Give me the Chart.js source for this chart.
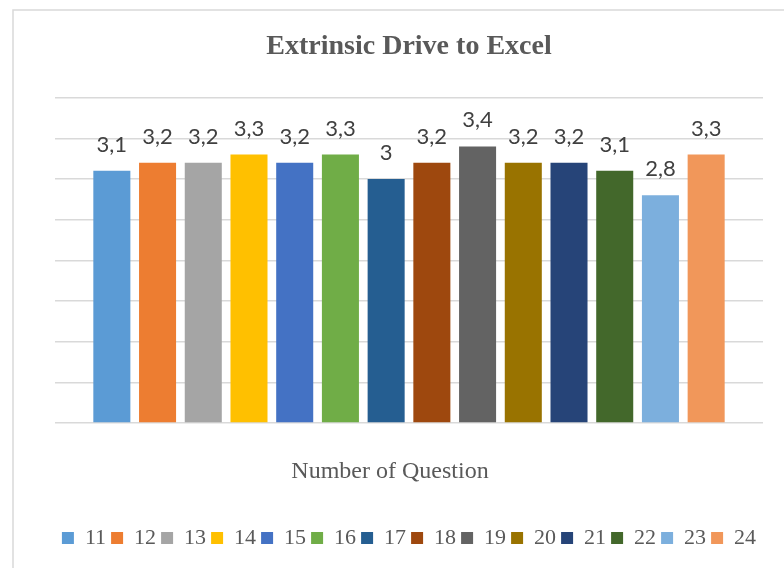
<!DOCTYPE html>
<html>
<head>
<meta charset="utf-8">
<script src="https://cdn.jsdelivr.net/npm/chart.js@4.4.0/dist/chart.umd.min.js"></script>
<style>
    body { margin: 0; background: #ffffff; }
    #contenedor { position: relative; width: 784px; height: 568px; }
</style>
</head>
<body>
<div id="contenedor">
    <canvas id="myChart" width="784" height="568"></canvas>
</div>
<script>
// datos de la grafica
var preguntas = ['11', '12', '13', '14', '15', '16', '17', '18', '19', '20', '21', '22', '23', '24'];
var promedios = [3.1, 3.2, 3.2, 3.3, 3.2, 3.3, 3.0, 3.2, 3.4, 3.2, 3.2, 3.1, 2.8, 3.3];
var colores = ['#5B9BD5', '#ED7D31', '#A5A5A5', '#FFC000', '#4472C4', '#70AD47', '#255E91',
               '#9E480E', '#636363', '#997300', '#264478', '#43682B', '#7CAFDD', '#F1975A'];
var titulo = 'Extrinsic Drive to Excel';
var tituloEje = 'Number of Question';

// un dataset por pregunta (asi sale la leyenda como en excel)
var datasets = [];
for (var i in preguntas) {
    datasets.push({
        label: preguntas[i],
        data: [promedios[i]],
        backgroundColor: colores[i],
        borderWidth: 0,
        categoryPercentage: 0.904,
        barPercentage: 0.81
    });
}

// marco gris alrededor de la grafica
var marco = {
    id: 'marco',
    beforeDraw: function (chart) {
        var ctx = chart.ctx;
        ctx.save();
        ctx.strokeStyle = '#d9d9d9';
        ctx.lineWidth = 1.5;
        ctx.strokeRect(13, 10, 800, 600);
        ctx.restore();
    }
};

// etiquetas de valor arriba de cada barra y titulo del eje
var etiquetas = {
    id: 'etiquetas',
    afterDatasetsDraw: function (chart) {
        var ctx = chart.ctx;
        ctx.save();
        ctx.font = '22px Lato';
        ctx.fillStyle = '#404040';
        ctx.textAlign = 'center';
        ctx.textBaseline = 'alphabetic';
        chart.data.datasets.forEach(function (ds, idx) {
            var bar = chart.getDatasetMeta(idx).data[0];
            var texto = String(ds.data[0]).replace('.', ',');
            ctx.fillText(texto, bar.x, bar.y - 19);
        });
        // titulo del eje x
        ctx.font = '24px "Liberation Serif"';
        ctx.fillStyle = '#595959';
        ctx.textBaseline = 'middle';
        ctx.fillText(tituloEje, 390, 472);
        ctx.restore();
    }
};

var graphTarget = document.getElementById('myChart');

var barGraph = new Chart(graphTarget, {
    type: 'bar',
    data: {
        labels: [''],
        datasets: datasets
    },
    plugins: [marco, etiquetas],
    options: {
        responsive: false,
        animation: false,
        layout: {
            padding: { left: 55, right: 21, top: 0, bottom: 9 }
        },
        plugins: {
            title: {
                display: true,
                text: titulo,
                color: '#595959',
                font: { family: '"Liberation Serif"', size: 28, weight: 'bold' },
                padding: { top: 30, bottom: 34 }
            },
            legend: {
                position: 'bottom',
                labels: {
                    boxWidth: 12,
                    boxHeight: 12,
                    padding: 5,
                    color: '#595959',
                    font: { family: '"Liberation Serif"', size: 22 }
                }
            },
            tooltip: { enabled: false }
        },
        scales: {
            x: {
                grid: { display: false },
                border: { display: false },
                ticks: { display: false },
                afterFit: function (scale) {
                    scale.height = 99;
                }
            },
            y: {
                min: 0,
                max: 4,
                ticks: { display: false, stepSize: 0.5 },
                border: { display: false },
                grid: { color: '#d9d9d9', lineWidth: 1.5, drawTicks: false }
            }
        }
    }
});
</script>
</body>
</html>
